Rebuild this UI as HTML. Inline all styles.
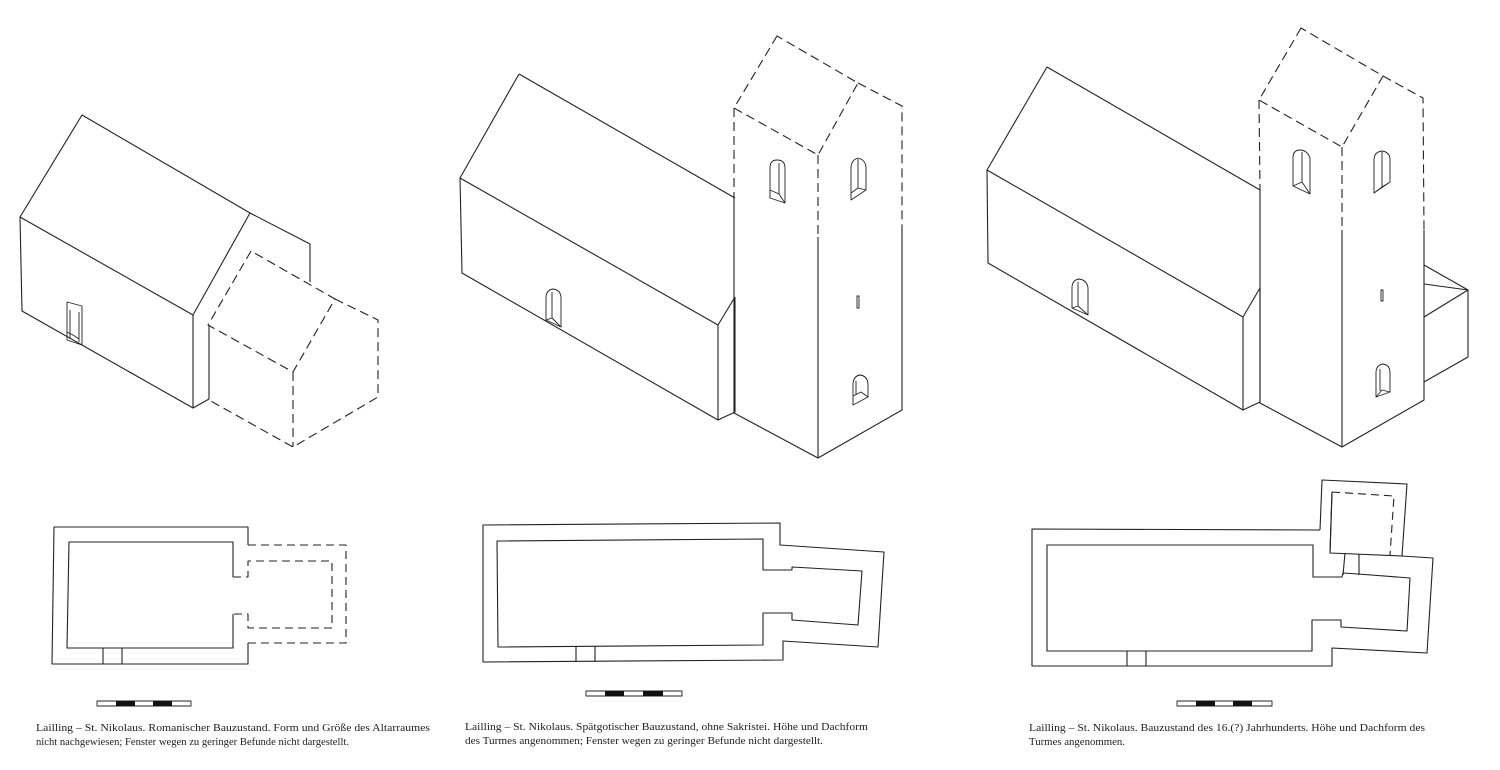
<!DOCTYPE html>
<html><head><meta charset="utf-8"><style>
html,body{margin:0;padding:0;background:#fff;}
svg{display:block}
text{font-family:"Liberation Serif",serif;font-size:11px;fill:#222}
</style></head><body>
<svg width="1500" height="770" viewBox="0 0 1500 770" xmlns="http://www.w3.org/2000/svg">
<g fill="none" stroke="#222" stroke-width="1.1" stroke-linejoin="round">
<!-- Drawing 1 -->
<path d="M82,115 L20,217 L193,315 L250,213 Z"/>
<path d="M20,217 L22,311 L193,408 L193,315"/>
<path d="M193,408 L209,399 M250,213 L310,244 L310,282 M209,325 L209,399"/>
<path d="M67,302 L67,340 L82,345 L82,306 Z M70,310 L70,339 M79,312 L79,342 M67,332 L73,335 L79,339" stroke-width="0.9"/>
<g stroke-dasharray="9,5">
<path d="M251,251 L208,325 L293,372 L335,299 Z"/>
<path d="M335,299 L378,320 L378,397 L293,447 L209,400 M293,372 L293,447"/>
</g>
<!-- Drawing 2 -->
<path d="M519,74 L460,178 L718,325 L735,297 M519,74 L735,198"/>
<path d="M460,178 L462,273 L718,420 L718,325 M718,420 L735,412 L735,297"/>
<path d="M734,200 L734,413 L818,458 L902,410 L902,230 M818,237 L818,458"/>
<g stroke-dasharray="9,5">
<path d="M777,36 L734,108 L818,155 L858,83 Z M858,83 L902,106 L902,230 M734,108 L734,200 M818,155 L818,237"/>
</g>
<g stroke-width="0.9">
<path d="M770,198 L770,168 Q770,160 777,160 Q785,160 785,168 L785,203 Z M770,190 L779,194 L785,203 M779,194 L779,163"/>
<path d="M851,200 L851,168 Q851,160 858,158 Q866,160 866,168 L866,190 Z M851,193 L858,188 L866,190 M858,188 L858,159"/>
<path d="M853,405 L853,385 Q853,376 860,375 Q868,376 868,385 L868,397 Z M853,396 L861,392 L868,397 M856,395 L856,381"/>
<path d="M857,296 L857,308 L859,308 L859,296 Z"/>
<path d="M546,320 L546,298 Q546,290 553,289 Q561,290 561,298 L561,327 Z M546,320 L552,318 L561,327 M552,318 L552,292"/>
</g>
<!-- Drawing 3 -->
<path d="M1047,67 L987,170 L1243,317 L1260,288 M1047,67 L1260,190"/>
<path d="M987,170 L988,263 L1243,410 L1243,317 M1243,410 L1260,402 L1260,288"/>
<path d="M1260,190 L1260,403 L1342,447 L1424,400 L1424,230 M1342,230 L1342,447"/>
<g stroke-dasharray="9,5">
<path d="M1301,28 L1259,100 L1342,147 L1383,76 Z M1383,76 L1423,98 L1424,230 M1259,100 L1260,190 M1342,147 L1342,230"/>
</g>
<path d="M1424,265 L1468,290 L1424,284 M1468,290 L1424,317 M1468,290 L1468,357 L1424,382"/>
<g stroke-width="0.9">
<path d="M1293,186 L1293,158 Q1293,150 1300,150 Q1307,150 1310,158 L1310,194 Z M1293,186 L1302,182 L1310,194 M1302,182 L1302,152"/>
<path d="M1374,193 L1374,160 Q1374,152 1382,151 Q1390,152 1390,160 L1390,182 Z M1374,193 L1382,187 L1390,182 M1382,187 L1382,152"/>
<path d="M1376,397 L1376,373 Q1376,365 1383,364 Q1390,365 1390,373 L1390,392 Z M1376,397 L1382,390 L1390,392 M1380,391 L1380,369"/>
<path d="M1381,290 L1381,301 L1383,301 L1383,290 Z"/>
<path d="M1072,308 L1072,288 Q1072,280 1079,279 Q1087,280 1088,288 L1088,315 Z M1072,308 L1078,306 L1088,315 M1078,306 L1078,282"/>
</g>
<!-- Plan 1 -->
<path d="M248,545 L248,527 L54,527 L52,664 L248,664 L248,643"/>
<path d="M233,577 L233,542 L69,542 L67,648 L233,648 L233,614"/>
<path d="M103,648 L103,664 M122,648 L122,664"/>
<g stroke-dasharray="8,5">
<path d="M248,545 L346,545 L346,643 L248,643"/>
<path d="M233,577 L248,577 L248,561 L332,561 L332,628 L248,628 L248,614 L233,614"/>
</g>
<!-- Plan 2 -->
<path d="M483,525 L780,523 L780,545 L884,552 L878,647 L783,641 L783,660 L483,662 Z"/>
<path d="M497,541 L763,539 L763,570 L792,570 L792,567 L862,571 L858,625 L792,620 L792,613 L763,613 L763,645 L498,647 Z"/>
<path d="M576,646 L576,662 M595,646 L595,662"/>
<!-- Plan 3 -->
<path d="M1320,530 L1032,529 L1032,666 L1332,666 L1332,648 L1427,653 L1433,558 L1402,556"/>
<path d="M1320,530 L1322,480 L1407,484 L1402,556 L1330,553 L1332,492"/>
<path d="M1332,492 L1330,553"/>
<path d="M1047,545 L1313,545 L1313,577 L1342,577 L1343,573 L1358,574 L1410,578 L1407,631 L1341,627 L1341,620 L1312,620 L1312,651 L1047,651 Z"/>
<path d="M1345,553 L1343,575 M1359,554 L1359,575 M1127,651 L1127,666 M1146,651 L1146,666"/>
<path d="M1332,492 L1394,496 L1390,555" stroke-dasharray="8,5"/>
<!-- scale bars -->
<rect x="97" y="701" width="94" height="5" stroke-width="0.9"/>
<rect x="586" y="691" width="96" height="5" stroke-width="0.9"/>
<rect x="1177" y="701" width="95" height="5" stroke-width="0.9"/>
</g>
<g fill="#111">
<rect x="116" y="701" width="19" height="5"/><rect x="153" y="701" width="19" height="5"/>
<rect x="605" y="691" width="19" height="5"/><rect x="643" y="691" width="20" height="5"/>
<rect x="1196" y="701" width="19" height="5"/><rect x="1233" y="701" width="19" height="5"/>
</g>
<text x="36" y="731" textLength="394" lengthAdjust="spacingAndGlyphs">Lailling – St. Nikolaus. Romanischer Bauzustand. Form und Größe des Altarraumes</text>
<text x="36" y="745" textLength="313" lengthAdjust="spacingAndGlyphs">nicht nachgewiesen; Fenster wegen zu geringer Befunde nicht dargestellt.</text>
<text x="465" y="730" textLength="403" lengthAdjust="spacingAndGlyphs">Lailling – St. Nikolaus. Spätgotischer Bauzustand, ohne Sakristei. Höhe und Dachform</text>
<text x="465" y="744" textLength="358" lengthAdjust="spacingAndGlyphs">des Turmes angenommen; Fenster wegen zu geringer Befunde nicht dargestellt.</text>
<text x="1029" y="731" textLength="396" lengthAdjust="spacingAndGlyphs">Lailling – St. Nikolaus. Bauzustand des 16.(?) Jahrhunderts. Höhe und Dachform des</text>
<text x="1029" y="745" textLength="96" lengthAdjust="spacingAndGlyphs">Turmes angenommen.</text>
</svg>
</body></html>
